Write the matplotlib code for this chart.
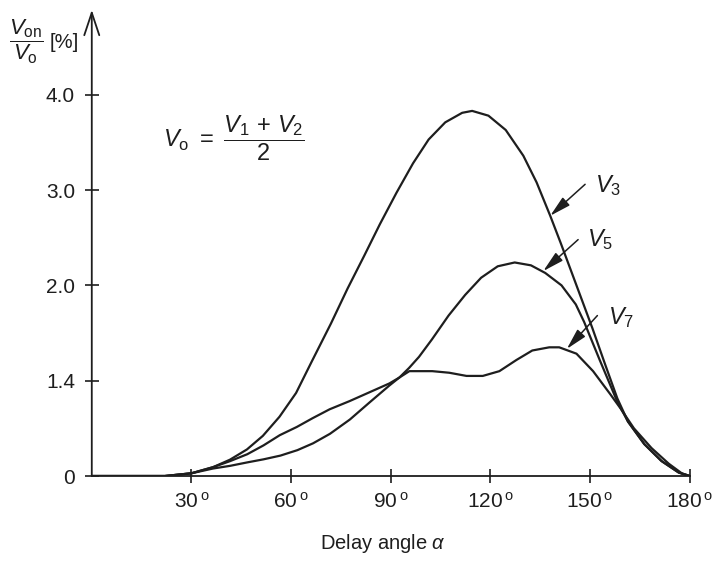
import numpy as np
import matplotlib
matplotlib.use("Agg")
import matplotlib.pyplot as plt

plt.rcParams["font.family"] = ["Liberation Sans", "DejaVu Sans"]
plt.rcParams["mathtext.fontset"] = "custom"
plt.rcParams["mathtext.rm"] = "Liberation Sans"
plt.rcParams["mathtext.it"] = "Liberation Sans:italic"

# harmonic voltage ratio (%) vs delay angle (deg)
v3_angle = [0, 22, 30, 36.5, 41.6, 46.7, 51.5, 56.5, 61.5, 66.2, 72.0, 77.0,
            82.0, 86.7, 91.7, 96.7, 101.4, 106.4, 111.5, 114.5, 119.4, 124.6,
            129.9, 133.9, 138.0, 141.2, 144.3, 147.5, 150.7, 154.4, 158.2,
            161.4, 166.3, 171.5, 176.7, 180]
v3_value = [0, 0, 0.04, 0.13, 0.24, 0.39, 0.59, 0.87, 1.22, 1.52, 1.76, 1.98,
            2.31, 2.64, 2.97, 3.28, 3.53, 3.71, 3.81, 3.83, 3.78, 3.63, 3.36,
            3.08, 2.73, 2.44, 2.15, 1.91, 1.73, 1.51, 1.14, 0.80, 0.47, 0.22,
            0.05, 0]

v5_angle = [0, 22, 30, 36.5, 41.7, 46.8, 51.7, 56.8, 61.9, 66.6, 71.7, 77.7,
            83.6, 89.6, 92.6, 95.5, 98.5, 102.4, 107.4, 112.4, 117.2, 122.2,
            127.3, 132.2, 136.5, 141.4, 145.7, 148.2, 152.9, 158.2, 161.4,
            166.3, 171.5, 176.7, 180]
v5_value = [0, 0, 0.04, 0.11, 0.15, 0.20, 0.245, 0.30, 0.38, 0.48, 0.62, 0.83,
            1.08, 1.33, 1.42, 1.48, 1.55, 1.66, 1.81, 1.94, 2.08, 2.20, 2.24,
            2.21, 2.13, 2.00, 1.88, 1.77, 1.53, 1.09, 0.80, 0.47, 0.22, 0.05,
            0]

v7_angle = [0, 22, 30, 36.5, 41.7, 46.8, 51.7, 56.6, 61.7, 66.5, 71.6, 77.6,
            83.6, 89.6, 92.6, 95.6, 98.6, 102.5, 107.6, 112.8, 117.7, 122.7,
            127.8, 132.6, 137.7, 140.7, 145.9, 150.9, 156.1, 159.2, 163.2,
            168.5, 173.7, 177.6, 180]
v7_value = [0, 0, 0.04, 0.13, 0.22, 0.32, 0.45, 0.60, 0.72, 0.85, 0.98, 1.10,
            1.23, 1.36, 1.42, 1.46, 1.46, 1.46, 1.45, 1.43, 1.43, 1.46, 1.53,
            1.59, 1.61, 1.61, 1.57, 1.46, 1.20, 0.99, 0.70, 0.41, 0.18, 0.04,
            0]

x_ticks = [30, 60, 90, 120, 150, 180]
y_ticks = [0, 1.4, 2.0, 3.0, 4.0]
y_labels = ["0", "1.4", "2.0", "3.0", "4.0"]

# the y axis in the book is not linear: ticks are evenly spaced
scale_vals = [0, 1.4, 2.0, 3.0, 4.0, 6.0]
scale_pos = [0, 1.0, 2.0, 3.0, 4.0, 6.0]


def forward(v):
    return np.interp(v, scale_vals, scale_pos)


def inverse(p):
    return np.interp(p, scale_pos, scale_vals)


fig = plt.figure(figsize=(7.17, 5.63), dpi=100)
ax = fig.add_axes([0.128, 0.1545, 0.834, 0.828])
ax.set_yscale("function", functions=(forward, inverse))

ink = "#1e1e1e"
line_kw = dict(color=ink, lw=1.6, solid_joinstyle="round",
               solid_capstyle="round")
ax.plot(v3_angle, v3_value, **line_kw)
ax.plot(v5_angle, v5_value, **line_kw)
ax.plot(v7_angle, v7_value, **line_kw)

ax.set_xlim(0, 180)
ax.set_ylim(0, 4.89)

ax.set_xticks(x_ticks)
ax.set_xticklabels([f"${d}\\,^{{\\mathrm{{o}}}}$" for d in x_ticks])
ax.set_yticks(y_ticks)
ax.set_yticklabels(y_labels)
ax.tick_params(direction="inout", length=10, width=1.2, labelsize=15,
               colors=ink)
ax.tick_params(axis="x", pad=6)
ax.tick_params(axis="y", pad=7)

for side in ["top", "right", "left"]:
    ax.spines[side].set_visible(False)
ax.spines["bottom"].set_linewidth(1.3)
ax.spines["bottom"].set_color(ink)

# y axis with an open arrow head
ax.annotate("", xy=(0, 1.0), xytext=(0, 0), xycoords="axes fraction",
            arrowprops=dict(arrowstyle="->,head_length=0.9,head_width=0.3",
                            lw=1.3, color=ink, shrinkA=0, shrinkB=0,
                            mutation_scale=18))

ax.set_xlabel(r"Delay angle $\alpha$", fontsize=14.5, color=ink)
ax.xaxis.set_label_coords(0.487, -0.12)

fig.text(0.012, 0.925, r"$\dfrac{V_{\mathrm{on}}}{V_{\mathrm{o}}}$", fontsize=16,
         ha="left", va="center", color=ink)
fig.text(0.069, 0.925, "[%]", fontsize=14.5, ha="left", va="center", color=ink)
fig.text(0.228, 0.755, r"$V_{\mathrm{o}}\ =\ \dfrac{V_1\,+\,V_2}{2}$",
         fontsize=17, ha="left", va="center", color=ink)

# curve labels with arrows
labels = [("$V_3$", (138.0, 2.73), (148.5, 3.06), (151.6, 3.05)),
          ("$V_5$", (135.9, 2.15), (146.4, 2.48), (149.0, 2.48)),
          ("$V_7$", (143.0, 1.60), (152.2, 1.81), (155.4, 1.80))]
for name, tip, tail, pos in labels:
    ax.annotate("", xy=tip, xytext=tail,
                arrowprops=dict(arrowstyle="-|>,head_length=0.8,head_width=0.2",
                                lw=1.1, color=ink, shrinkA=0, shrinkB=0,
                                mutation_scale=16))
    ax.text(pos[0], pos[1], name, fontsize=17, ha="left", va="center",
            color=ink)

fig.savefig("out.png", dpi=100, facecolor="white")
